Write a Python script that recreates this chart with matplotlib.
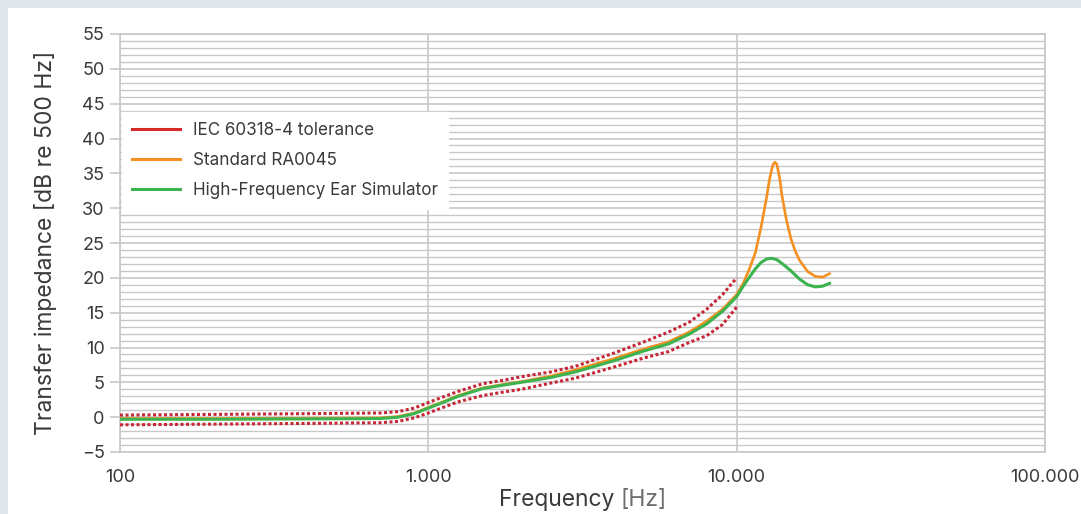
import matplotlib
matplotlib.use("Agg")
import matplotlib.pyplot as plt
from matplotlib.patches import Rectangle
from matplotlib.ticker import FixedLocator, MultipleLocator, FuncFormatter

# Tolerance band (IEC 60318-4), frequency in Hz, level in dB re 500 Hz
tol_freq = [100, 200, 400, 700, 800, 900, 1000, 1100, 1250, 1500, 1750, 2000,
            2500, 3000, 4000, 5000, 6000, 7000, 8000, 9000, 10000]
tol_upper = [0.3, 0.4, 0.5, 0.6, 0.8, 1.3, 2.1, 2.8, 3.7, 4.8, 5.3, 5.8,
             6.5, 7.3, 9.2, 10.8, 12.2, 13.6, 15.5, 17.6, 20.0]
tol_lower = [-1.1, -1.0, -0.9, -0.8, -0.6, -0.1, 0.6, 1.3, 2.2, 3.1, 3.6, 4.0,
             4.9, 5.6, 7.2, 8.5, 9.4, 10.7, 11.7, 13.3, 15.8]

# Standard RA0045
std_freq = [100, 200, 400, 700, 800, 900, 1000, 1100, 1250, 1500, 1750, 2000,
            2500, 3000, 4000, 5000, 6000, 7000, 8000, 9000, 10000, 10500, 11000,
            11500, 12000, 12500, 12800, 13100, 13300, 13500, 13800, 14000, 14500,
            15000, 15500, 16000, 17000, 18000, 19000, 20000]
std_vals = [-0.2, -0.2, -0.15, -0.1, 0.1, 0.6, 1.4, 2.1, 3.1, 4.2, 4.7, 5.1,
            5.9, 6.8, 8.4, 9.8, 10.8, 12.2, 13.8, 15.5, 17.6, 19.2, 21.3,
            23.6, 27.3, 31.5, 34.3, 36.2, 36.6, 36.3, 34.2, 32.0, 28.3,
            25.6, 23.8, 22.5, 20.9, 20.2, 20.1, 20.6]

# High-Frequency Ear Simulator
hf_freq = [100, 200, 400, 700, 800, 900, 1000, 1100, 1250, 1500, 1750, 2000,
           2500, 3000, 4000, 5000, 6000, 7000, 8000, 9000, 10000, 10500, 11000,
           11500, 12000, 12500, 13000, 13500, 14000, 15000, 16000, 17000, 18000,
           19000, 20000]
hf_vals = [-0.3, -0.3, -0.25, -0.2, 0.0, 0.5, 1.3, 2.0, 3.0, 4.1, 4.6, 5.0,
           5.7, 6.5, 8.1, 9.5, 10.5, 11.9, 13.4, 15.2, 17.3, 18.8, 20.1,
           21.3, 22.2, 22.7, 22.8, 22.6, 22.1, 21.0, 19.8, 19.0, 18.7,
           18.8, 19.2]

x_ticks = [100, 1000, 10000, 100000]
x_labels = ["100", "1.000", "10.000", "100.000"]

RED = "#c72838"
RED_LEG = "#d42a2a"
ORANGE = "#f39020"
GREEN = "#3db34f"
TEXT = "#3a3a3a"
GRID = "#c8c8c8"

plt.rcParams["font.family"] = ["Inter", "DejaVu Sans"]

fig = plt.figure(figsize=(10.81, 5.14), dpi=100, facecolor="#dfe7ea")
fig.patches.append(Rectangle((8 / 1081, 0), 1, (514 - 8) / 514,
                             transform=fig.transFigure, facecolor="white",
                             edgecolor="none", zorder=-10))

ax = fig.add_axes([120 / 1081, (514 - 452) / 514, 925 / 1081, 418 / 514])
ax.set_zorder(1)
ax.set_facecolor("white")

ax.plot(tol_freq, tol_upper, color=RED, lw=2.2, dashes=(1.0, 0.8), zorder=4)
ax.plot(tol_freq, tol_lower, color=RED, lw=2.2, dashes=(1.0, 0.8), zorder=4)
ax.plot(std_freq, std_vals, color=ORANGE, lw=1.9, zorder=3)
ax.plot(hf_freq, hf_vals, color=GREEN, lw=2.2, zorder=3)

ax.set_xscale("log")
ax.set_xlim(100, 100000)
ax.set_ylim(-5, 55)

ax.xaxis.set_major_locator(FixedLocator(x_ticks))
ax.xaxis.set_minor_locator(FixedLocator([]))
ax.xaxis.set_major_formatter(FuncFormatter(lambda v, p: x_labels[x_ticks.index(int(round(v)))] if int(round(v)) in x_ticks else ""))
ax.yaxis.set_major_locator(MultipleLocator(5))
ax.yaxis.set_minor_locator(MultipleLocator(1))

ax.grid(which="major", axis="both", color=GRID, lw=1.2, zorder=1)
ax.grid(which="minor", axis="y", color=GRID, lw=1.0, zorder=1)
ax.set_axisbelow(True)

for s in ax.spines.values():
    s.set_color(GRID)
    s.set_linewidth(1.2)

ax.tick_params(axis="y", which="major", length=7, color=GRID, width=1.2,
               labelsize=13, labelcolor=TEXT, pad=4)
ax.tick_params(axis="y", which="minor", length=0)
ax.tick_params(axis="x", which="both", length=0, labelsize=13,
               labelcolor=TEXT, pad=12)

ax.set_ylabel("Transfer impedance [dB re 500 Hz]", fontsize=16.5, color=TEXT)
ax.yaxis.set_label_coords(-0.068, 0.5)

# x label: "Frequency" dark, "[Hz]" lighter
xl = ax.text(0.5 + 0.041, -0.088, "Frequency ", transform=ax.transAxes,
             ha="right", va="top", fontsize=16.5, color=TEXT)
ax.annotate("[Hz]", xy=(1, 0), xycoords=xl, va="bottom", ha="left",
            fontsize=16.5, color="#6e6e6e")

handles = [plt.Line2D([], [], color=RED_LEG, lw=2.2),
           plt.Line2D([], [], color=ORANGE, lw=2.2),
           plt.Line2D([], [], color=GREEN, lw=2.2)]
labels = ["IEC 60318-4 tolerance", "Standard RA0045",
          "High-Frequency Ear Simulator"]
leg = ax.legend(handles, labels, loc="upper left",
                bbox_to_anchor=(0.002, 0.813), fontsize=12.3, frameon=True,
                fancybox=False, framealpha=1, edgecolor="white",
                handlelength=2.8, handletextpad=0.75, labelspacing=0.74,
                borderpad=0.6, borderaxespad=0)
for t in leg.get_texts():
    t.set_color(TEXT)

fig.savefig("out.png", dpi=100, facecolor=fig.get_facecolor())
